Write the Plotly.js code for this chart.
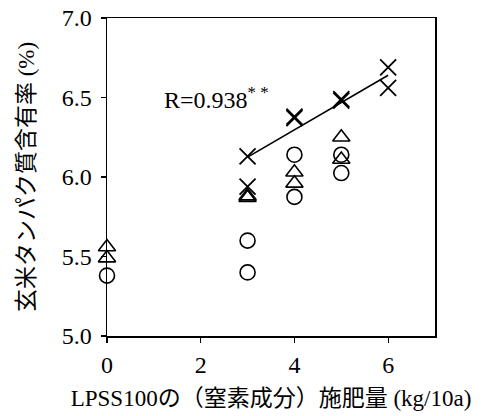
<!DOCTYPE html>
<html>
<head>
<meta charset="utf-8">
<script src="https://cdn.plot.ly/plotly-3.0.1.min.js"></script>
<style>html,body{margin:0;padding:0;background:#fff;}#chart{width:488px;height:416px;}</style>
</head>
<body>
<div id="chart"></div>
<script>
// Data
const crossX = [3, 3, 4, 4, 5, 5, 6, 6];
const crossY = [6.13, 5.94, 6.37, 6.38, 6.48, 6.49, 6.69, 6.56];
const triX = [0, 0, 3, 3, 4, 4, 5, 5];
const triY = [5.56, 5.49, 5.87, 5.88, 6.03, 5.96, 6.25, 6.11];
const circX = [0, 3, 3, 4, 4, 5, 5];
const circY = [5.38, 5.60, 5.40, 6.14, 5.875, 6.14, 6.025];
const fitX = [3, 6];
const fitY = [6.125, 6.64];
const xTicks = [0, 2, 4, 6];
const yTicks = [5.0, 5.5, 6.0, 6.5, 7.0];
const yTickText = ["5.0", "5.5", "6.0", "6.5", "7.0"];
const xTitle = "LPSS100の（窒素成分）施肥量 (kg/10a)";
const yTitle = "玄米タンパク質含有率 (%)";
const rText = "R=0.938<sup>* *</sup>";

const FONT = "'Liberation Serif', 'Noto Sans CJK JP', serif";

const traces = [
  {x: circX, y: circY, mode: "markers", type: "scatter", cliponaxis: false,
   marker: {symbol: "circle-open", size: 15, color: "#000", line: {width: 1.6, color: "#000"}}},
  {x: triX, y: triY, mode: "markers", type: "scatter", cliponaxis: false,
   marker: {symbol: "triangle-up-open", size: 15, color: "#000", line: {width: 1.6, color: "#000"}}},
  {x: fitX, y: fitY, mode: "lines", type: "scatter",
   line: {color: "#000", width: 1.6}},
  {x: crossX, y: crossY, mode: "markers", type: "scatter", cliponaxis: false,
   marker: {symbol: "x-thin-open", size: 16, color: "#000", line: {width: 1.8, color: "#000"}}}
];

const layout = {
  width: 488, height: 416,
  margin: {l: 107, r: 53, t: 18, b: 80},
  paper_bgcolor: "#fff", plot_bgcolor: "#fff",
  showlegend: false,
  font: {family: FONT, color: "#000", size: 20},
  xaxis: {
    range: [0, 7], tickvals: xTicks, ticks: "outside", ticklen: 5, tickwidth: 1.2, tickcolor: "#000",
    showgrid: false, zeroline: false, showline: true, linecolor: "#000", linewidth: 1.5, mirror: true,
    tickfont: {family: FONT, size: 24}, ticklabelstandoff: 2,
    title: {text: xTitle, font: {family: FONT, size: 23}, standoff: 12}
  },
  yaxis: {
    range: [5.0, 7.0], tickvals: yTicks, ticktext: yTickText, ticks: "outside", ticklen: 5, tickwidth: 1.2, tickcolor: "#000",
    showgrid: false, zeroline: false, showline: true, linecolor: "#000", linewidth: 1.5, mirror: true,
    tickfont: {family: FONT, size: 24}, ticklabelstandoff: 4,
    title: {text: yTitle, font: {family: FONT, size: 23}, standoff: 20}
  },
  annotations: [{
    x: 1.17, y: 6.5, xref: "x", yref: "y", text: rText, showarrow: false,
    xanchor: "left", yanchor: "middle", font: {family: FONT, size: 24}
  }]
};

Plotly.newPlot("chart", traces, layout, {displayModeBar: false, staticPlot: true});
</script>
</body>
</html>
